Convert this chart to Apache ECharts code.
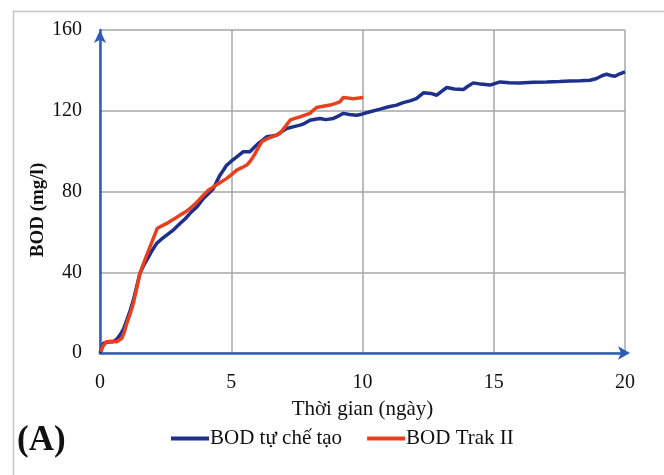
<!DOCTYPE html>
<html><head><meta charset="utf-8">
<script src="https://cdn.jsdelivr.net/npm/echarts@6/dist/echarts.min.js"></script>
<style>html,body{margin:0;padding:0;background:#fff}#c{width:664px;height:475px}</style>
</head><body><div id="c"></div>
<script>
const seriesNames = ['BOD tự chế tạo', 'BOD Trak II'];
const xTicks = [0, 5, 10, 15, 20];
const yTicks = [0, 40, 80, 120, 160];
// [day, BOD mg/l]
const blueData = [[0,0],[0.13,4.8],[0.3,5.4],[0.51,5.6],[0.65,7],[0.76,8.9],[0.9,12],[1.02,16.3],[1.15,21],[1.27,26.2],[1.4,33],[1.52,39.4],[1.65,43],[1.78,46],[1.95,50],[2.16,54.3],[2.35,56.5],[2.54,58.4],[2.8,61],[3.05,64.2],[3.25,66.5],[3.43,69.2],[3.7,72.5],[3.94,76.6],[4.1,78.5],[4.32,81.5],[4.45,85],[4.57,88.1],[4.7,90.5],[4.83,93.1],[5.0,95],[5.21,97.2],[5.46,99.7],[5.71,99.7],[5.85,101.5],[6.03,103.8],[6.2,105.5],[6.35,107.1],[6.55,107.5],[6.73,107.9],[6.9,109.5],[7.11,111.2],[7.35,112],[7.62,112.9],[7.8,113.8],[8.0,115.3],[8.2,115.8],[8.38,116.2],[8.6,115.6],[8.89,116.2],[9.1,117.5],[9.27,118.7],[9.5,118.1],[9.78,117.8],[9.97,118.3],[10.29,119.5],[10.67,120.8],[11.0,122],[11.3,122.8],[11.55,124],[11.81,124.9],[12.05,126],[12.32,128.9],[12.6,128.6],[12.83,127.7],[13.0,129.5],[13.21,131.5],[13.5,130.8],[13.84,130.5],[14.0,132],[14.22,133.8],[14.5,133.2],[14.86,132.7],[15.24,134.3],[15.6,133.9],[16.0,133.8],[16.5,134.1],[17.02,134.3],[17.5,134.5],[17.9,134.7],[18.3,134.9],[18.67,135.1],[18.92,136],[19.1,137.2],[19.3,138.1],[19.45,137.5],[19.62,137.1],[19.8,138.3],[20.0,139.3]];
const redData = [[0.03,0.6],[0.12,3.5],[0.25,5.6],[0.45,5.8],[0.64,5.6],[0.83,7.3],[0.93,10.5],[1.02,14.7],[1.15,19.5],[1.27,24.6],[1.4,32],[1.52,39.4],[1.65,44],[1.78,48.5],[1.98,55],[2.18,61.7],[2.36,63],[2.54,64.2],[2.8,66.2],[3.05,68.3],[3.25,69.8],[3.43,71.6],[3.7,74.8],[3.94,78.2],[4.12,80.5],[4.32,82.3],[4.58,84.5],[4.83,86.5],[5.02,88.5],[5.21,90.6],[5.4,91.8],[5.59,93.1],[5.72,95],[5.84,97.2],[6.0,101],[6.16,104.6],[6.35,106],[6.54,107.1],[6.7,107.8],[6.86,108.8],[7.05,112],[7.24,115.3],[7.42,116.2],[7.62,117],[7.8,117.8],[8.0,118.7],[8.12,120.2],[8.25,121.6],[8.5,122.2],[8.76,122.8],[8.95,123.5],[9.14,124.4],[9.27,126.6],[9.45,126.3],[9.65,126],[9.85,126.3],[10.03,126.6]];

const serif = '"Liberation Serif","Times New Roman",serif';
const axisBlue = '#2f5db5';
const chart = echarts.init(document.getElementById('c'));
chart.setOption({
  animation: false,
  backgroundColor: '#fff',
  graphic: [
    {type:'rect', shape:{x:13.5,y:11.5,width:700,height:520}, style:{fill:'none', stroke:'#c4c4c4', lineWidth:1.5}, z:0},
    {type:'text', x:17, y:441, style:{text:'(A)', font:'bold 35px ' + serif, fill:'#111', textVerticalAlign:'middle'}},
    {type:'text', x:38, y:210, rotation: Math.PI/2, style:{text:'BOD (mg/l)', font:'bold 19px ' + serif, fill:'#111', textAlign:'center', textVerticalAlign:'middle'}}
  ],
  grid: {left:100, right:39, top:30, bottom:122},
  legend: {
    data: seriesNames, bottom: 21, left: 166, icon: 'rect', itemWidth: 38, itemHeight: 4, itemGap: 25,
    textStyle: {fontFamily: serif, fontSize: 21, color: '#111', padding:[0,0,0,-4]}
  },
  xAxis: {
    type:'value', min: xTicks[0], max: xTicks[xTicks.length-1], interval: 5,
    name: 'Thời gian (ngày)', nameLocation:'middle', nameGap: 46,
    nameTextStyle: {fontFamily: serif, fontSize: 21, color:'#111'},
    axisLine: {show:true, lineStyle:{color:axisBlue, width:2.5}, symbol:['none','arrow'], symbolSize:[10,12], symbolOffset:[0,5]},
    axisTick: {show:false},
    axisLabel: {fontFamily: serif, fontSize: 20, color:'#111', margin: 20},
    splitLine: {show:true, lineStyle:{color:'#a6a6a6', width:1.5}}
  },
  yAxis: {
    type:'value', min: yTicks[0], max: yTicks[yTicks.length-1], interval: 40,
    axisLine: {show:true, lineStyle:{color:axisBlue, width:2.5}, symbol:['none','arrow'], symbolSize:[9,13]},
    axisTick: {show:false},
    axisLabel: {fontFamily: serif, fontSize: 20, color:'#111', margin: 18},
    splitLine: {show:true, lineStyle:{color:'#a6a6a6', width:1.5}}
  },
  series: [
    {name: seriesNames[0], type:'line', data: blueData, showSymbol:false, lineStyle:{color:'#1f2f8c', width:3.5}, itemStyle:{color:'#1f2f8c'}, z:3},
    {name: seriesNames[1], type:'line', data: redData, showSymbol:false, lineStyle:{color:'#e8401e', width:3.5}, itemStyle:{color:'#e8401e'}, z:4}
  ]
});
</script></body></html>
